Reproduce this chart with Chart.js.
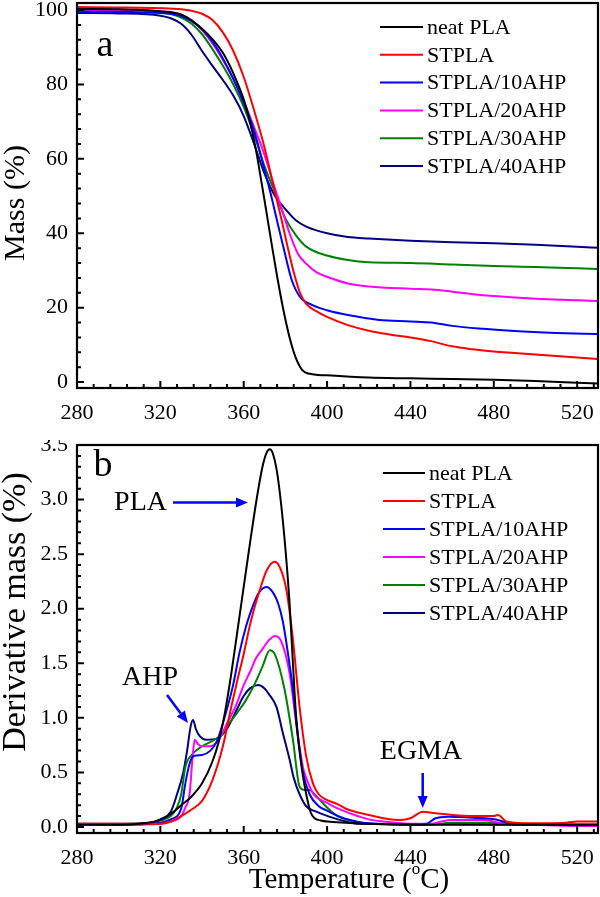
<!DOCTYPE html>
<html><head><meta charset="utf-8">
<script src="https://cdn.jsdelivr.net/npm/chart.js@4.4.1/dist/chart.umd.min.js"></script>
<style>
html,body{margin:0;padding:0;background:#fff;}
#wrap{position:relative;width:600px;height:897px;overflow:hidden;}
canvas{position:absolute;left:0;}
#c1{top:0;} #c2{top:440px;}
</style></head><body>
<div id="wrap"><canvas id="c1" width="600" height="440"></canvas><canvas id="c2" width="600" height="457"></canvas></div>
<script>
// ---------- data ----------
const seriesNames = ['neat PLA','STPLA','STPLA/10AHP','STPLA/20AHP','STPLA/30AHP','STPLA/40AHP'];
const seriesColors = ['#000000','#ff0000','#0000ff','#ff00ff','#008000','#000080'];

const xTickValues = [280,320,360,400,440,480,520];
const massTickValues = [0,20,40,60,80,100];
const derivTickValues = [0,0.5,1.0,1.5,2.0,2.5,3.0,3.5];

// (a) Mass (%) vs temperature
const massT_neat = [280,300,320,330,335,340,345,350,355,360,363,366,368,370,373,376,379,382,385,388,391,400,420,440,460,480,500,520,530];
const mass_neat  = [100.3,100.2,99.7,98.8,97.2,95,92.2,88.5,83,76,70,62,55.5,48.8,38.5,28.5,19.5,12,6.5,3.3,2.3,1.8,1.2,1.0,0.8,0.6,0.3,-0.2,-0.4];

const massT_st = [280,300,320,330,335,340,345,350,355,360,365,370,375,378,381,384,387,390,395,400,410,420,430,440,450,460,470,480,490,500,510,520,530];
const mass_st  = [100.8,100.7,100.5,100.2,99.8,99,97.3,94,89,82,73,63,51,44,36.5,29.5,24,21,19,17.5,15.3,13.8,12.8,12,11,9.6,8.8,8.2,7.8,7.4,7,6.6,6.2];

const massT_10 = [280,300,320,330,335,340,345,350,355,360,365,370,373,377,380,383,387,393,400,410,425,440,450,460,475,490,510,530];
const mass_10  = [99.6,99.5,99.2,98.4,97,94.8,91.5,87,81.5,75,67.5,57,50.5,41,34,27.5,22.9,20.7,19.3,18,16.7,16.3,16,15.1,14.3,13.7,13.2,12.9];

const massT_20 = [280,300,320,330,335,340,345,350,355,360,365,370,375,378,382,386,390,395,400,410,420,440,450,460,470,480,500,520,530];
const mass_20  = [100,100,99.6,98.7,97.3,94.6,91,86.6,81.5,75.5,68.5,61,52,47,40,34.5,31.8,29.5,28.3,26.5,25.7,25.1,24.9,24.3,23.6,23.1,22.4,22,21.8];

const massT_30 = [280,300,320,330,335,340,345,350,355,360,365,370,375,380,385,390,400,410,420,440,460,480,500,520,530];
const mass_30  = [100.3,100.1,99.5,98,96.3,93.5,89.5,85,80,74,66.5,58,51,44,39.5,36.4,34,32.8,32.2,32,31.6,31.2,30.9,30.6,30.4];

const massT_40 = [280,300,320,325,330,335,340,345,350,355,360,365,370,375,380,385,390,400,410,420,440,460,480,500,520,530];
const mass_40  = [99.2,99.1,98.5,97.8,96.3,93.3,89,85,81.2,77,71.5,64,56,50,46.5,43.5,41.8,40,39,38.6,38,37.6,37.3,36.9,36.4,36.1];

// (b) Derivative mass vs temperature
const dT_neat = [280,300,310,320,325,330,335,340,345,348,351,354,357,360,363,366,369,371,372.5,374,376,378,380,382,383.6,385,386.5,388,390,392,394,397,400,420,450,480,530];
const d_neat  = [0.02,0.02,0.03,0.065,0.12,0.2,0.28,0.4,0.6,0.78,1.05,1.4,1.8,2.2,2.6,2.98,3.3,3.43,3.46,3.42,3.25,2.95,2.55,2.05,1.5,1.05,0.75,0.52,0.3,0.14,0.08,0.06,0.05,0.03,0.02,0.02,0.02];

const dT_st = [280,300,320,325,330,335,340,345,350,354,357,359.7,363,365,367.7,371,374.9,378,380.5,383.6,386.8,390,393.2,396,399.6,405,410,420,430,435,440,446,450,460,470,480,482,486,490,500,515,520,530];
const d_st  = [0.03,0.03,0.03,0.05,0.1,0.16,0.24,0.43,0.74,1.1,1.35,1.56,1.85,2.0,2.17,2.35,2.43,2.35,2.17,1.72,1.1,0.645,0.4,0.3,0.25,0.21,0.16,0.11,0.07,0.065,0.08,0.14,0.13,0.11,0.1,0.1,0.11,0.05,0.04,0.035,0.04,0.05,0.05];

const dT_10 = [280,300,320,325,330,332,334,336,340,344,347,350,354.9,358,361.3,364.5,367,370.9,374,376.5,378.8,381,383.6,386,388.4,391.6,396,400,406,412,419,430,445,448,452,458,470,482,488,500,530];
const d_10  = [0.03,0.02,0.04,0.07,0.17,0.4,0.58,0.65,0.66,0.7,0.78,0.95,1.3,1.6,1.85,2.03,2.14,2.2,2.15,2.05,1.88,1.62,1.26,0.82,0.5,0.3,0.19,0.15,0.095,0.06,0.035,0.025,0.02,0.03,0.08,0.095,0.085,0.065,0.03,0.02,0.02];

const dT_20 = [280,300,320,325,330,332,334,335.5,336.5,338,340,344,348,352,356,360,363,366,369,372,375,378,382,385.2,388.4,390,393.2,395,398,400,405,411,420,427,440,450,455,459,475,485,500,520,530];
const d_20  = [0.02,0.02,0.03,0.05,0.1,0.18,0.3,0.65,0.8,0.76,0.74,0.74,0.8,0.95,1.1,1.3,1.42,1.55,1.63,1.71,1.75,1.7,1.41,0.95,0.55,0.45,0.31,0.27,0.24,0.22,0.17,0.125,0.07,0.05,0.03,0.03,0.05,0.064,0.064,0.03,0.02,0.01,0.01];

const dT_30 = [280,300,315,320,325,328,330,332,335,340,345,349,353,357,361,365,369,372.5,375,379.6,383.6,386.8,389,391.6,394,396.4,401,405,410,420,450,460,480,490,530];
const d_30  = [0.02,0.02,0.04,0.06,0.1,0.18,0.3,0.55,0.66,0.74,0.79,0.84,0.95,1.05,1.16,1.3,1.47,1.62,1.58,1.26,0.8,0.37,0.34,0.34,0.3,0.25,0.16,0.1,0.064,0.03,0.02,0.04,0.04,0.02,0.02];

const dT_40 = [280,300,315,320,325,328,331,333,334.5,335.7,337,339,342,347,352,356,360,363,366.9,370,372,375.7,378.8,382,384,386.8,390,394.8,401,409,415,530];
const d_40  = [0.03,0.03,0.04,0.07,0.14,0.3,0.5,0.72,0.92,0.98,0.9,0.83,0.8,0.81,0.9,1.05,1.2,1.27,1.3,1.27,1.22,1.1,0.86,0.62,0.45,0.3,0.19,0.14,0.095,0.05,0.03,0.02];

const massSeries = [[massT_neat,mass_neat],[massT_st,mass_st],[massT_10,mass_10],[massT_20,mass_20],[massT_30,mass_30],[massT_40,mass_40]];
const derivSeries = [[dT_neat,d_neat],[dT_st,d_st],[dT_10,d_10],[dT_20,d_20],[dT_30,d_30],[dT_40,d_40]];

// ---------- helpers ----------
const SERIF = "'Liberation Serif','Times New Roman',serif";
function toPts(ts, vs){ return ts.map((t,i)=>({x:t,y:vs[i]})); }
function makeDatasets(series){
  return series.map((s,i)=>({
    label: seriesNames[i], data: toPts(s[0], s[1]),
    borderColor: seriesColors[i], backgroundColor: seriesColors[i],
    borderWidth: 2, pointRadius: 0, fill: false,
    cubicInterpolationMode: 'monotone'
  }));
}
function range(a,b,s){ const r=[]; for(let v=a; v<=b+1e-9; v+=s) r.push(+v.toFixed(6)); return r; }

function decoPlugin(cfg){
  return {
    id: 'deco',
    afterDraw(chart){
      const ctx = chart.ctx, ca = chart.chartArea;
      const xs = chart.scales.x, ys = chart.scales.y;
      ctx.save();
      ctx.strokeStyle = '#000'; ctx.lineWidth = 2;
      ctx.beginPath();
      cfg.xMinor.forEach(v=>{ const p = xs.getPixelForValue(v); const L = xTickValues.includes(v)?7:4;
        ctx.moveTo(p, ca.bottom); ctx.lineTo(p, ca.bottom - L); });
      cfg.yMinor.forEach(v=>{ const p = ys.getPixelForValue(v); const L = cfg.yMajor.some(m=>Math.abs(m-v)<1e-6)?7:4;
        ctx.moveTo(ca.left, p); ctx.lineTo(ca.left + L, p); });
      ctx.stroke();
      ctx.lineWidth = 2.2;
      ctx.strokeRect(ca.left, ca.top, ca.right-ca.left, ca.bottom-ca.top);
      ctx.font = '22px ' + SERIF; ctx.textBaseline = 'middle'; ctx.textAlign = 'left';
      chart.data.datasets.forEach((ds,i)=>{
        const y = cfg.legY + i*cfg.legDy;
        ctx.strokeStyle = ds.borderColor; ctx.lineWidth = 2;
        ctx.beginPath(); ctx.moveTo(cfg.legX0, y); ctx.lineTo(cfg.legX1, y); ctx.stroke();
        ctx.fillStyle = '#000'; ctx.fillText(ds.label, cfg.legX1 + 4, y + 1);
      });
      ctx.fillStyle = '#000';
      ctx.save();
      ctx.translate(cfg.yTitleX, cfg.yTitleY); ctx.rotate(-Math.PI/2);
      ctx.font = cfg.yTitleSize + 'px ' + SERIF; ctx.textAlign = 'center'; ctx.textBaseline = 'middle';
      ctx.fillText(cfg.yTitle, 0, 0);
      ctx.restore();
      ctx.fillStyle = '#000';
      ctx.font = '38px ' + SERIF; ctx.textAlign = 'center'; ctx.textBaseline = 'middle';
      ctx.fillText(cfg.letter, cfg.letterX, cfg.letterY);
      if (cfg.extra) cfg.extra(ctx, chart);
      ctx.restore();
    }
  };
}

function arrow(ctx, x0, y0, x1, y1){
  ctx.save();
  const ang = Math.atan2(y1-y0, x1-x0), hl = 12, hw = 5;
  const bx = x1 - hl*Math.cos(ang), by = y1 - hl*Math.sin(ang);
  ctx.strokeStyle = '#0000ff'; ctx.fillStyle = '#0000ff'; ctx.lineWidth = 2.5;
  ctx.beginPath(); ctx.moveTo(x0,y0); ctx.lineTo(bx,by); ctx.stroke();
  ctx.beginPath(); ctx.moveTo(x1,y1);
  ctx.lineTo(bx + hw*Math.sin(ang), by - hw*Math.cos(ang));
  ctx.lineTo(bx - hw*Math.sin(ang), by + hw*Math.cos(ang));
  ctx.closePath(); ctx.fill();
  ctx.restore();
}

function makeChart(id, series, yMin, yMax, yTicks, yFmt, padTop, xHeight, cfg){
  return new Chart(document.getElementById(id), {
    type: 'line',
    data: { datasets: makeDatasets(series) },
    options: {
      responsive: false, animation: false, devicePixelRatio: 1,
      layout: { padding: { top: padTop, right: 2, left: 0, bottom: 0 } },
      plugins: { legend: { display: false }, tooltip: { enabled: false } },
      scales: {
        x: {
          type: 'linear', min: 280, max: 530,
          grid: { display: false, drawTicks: false, tickLength: 0 }, border: { display: false },
          afterBuildTicks: s => { s.ticks = xTickValues.map(v=>({value:v})); },
          afterFit: s => { s.height = xHeight; s.paddingLeft = 0; s.paddingRight = 0; },
          ticks: { color: '#000', font: { family: SERIF, size: 22 }, padding: 12, maxRotation: 0, autoSkip: false }
        },
        y: {
          type: 'linear', min: yMin, max: yMax,
          grid: { display: false, drawTicks: false, tickLength: 0 }, border: { display: false },
          afterBuildTicks: s => { s.ticks = yTicks.map(v=>({value:v})); },
          afterFit: s => { s.width = 77; s.paddingTop = 0; s.paddingBottom = 0; },
          ticks: { color: '#000', font: { family: SERIF, size: 22 }, padding: 9, autoSkip: false, callback: yFmt }
        }
      }
    },
    plugins: [decoPlugin(cfg)]
  });
}

// ---------- chart (a) ----------
makeChart('c1', massSeries, -1.6, 101.9, massTickValues, v=>String(v), 3, 52, {
  xMinor: range(280, 528, 8), yMinor: range(0, 100, 4), yMajor: massTickValues,
  legX0: 380, legX1: 423, legY: 27, legDy: 27.8,
  yTitle: 'Mass (%)', yTitleSize: 30, yTitleX: 16, yTitleY: 203,
  letter: 'a', letterX: 105, letterY: 46
});

// ---------- chart (b) ----------
makeChart('c2', derivSeries, -0.055, 3.5, derivTickValues, v=>v.toFixed(1), 5, 64, {
  xMinor: range(280, 528, 8), yMinor: range(0, 3.5, 0.1), yMajor: derivTickValues,
  legX0: 383, legX1: 425, legY: 33, legDy: 28,
  yTitle: 'Derivative mass (%)', yTitleSize: 34, yTitleX: 16, yTitleY: 172,
  letter: 'b', letterX: 103, letterY: 26,
  extra: (ctx, chart) => {
    ctx.fillStyle = '#000'; ctx.textBaseline = 'middle';
    ctx.font = '28px ' + SERIF;
    ctx.textAlign = 'right'; ctx.fillText('PLA', 167, 63);
    ctx.textAlign = 'center'; ctx.fillText('AHP', 150, 238);
    ctx.fillText('EGMA', 421, 312);
    arrow(ctx, 173, 62.5, 248, 62.5);
    arrow(ctx, 167, 255, 188, 283);
    arrow(ctx, 422.7, 333, 422.7, 368);
    const y = 440, f = 29, fs = 17;
    const s1 = 'Temperature (', s2 = 'o', s3 = 'C)';
    ctx.fillStyle = '#000';
    ctx.font = f + 'px ' + SERIF; const w1 = ctx.measureText(s1).width, w3 = ctx.measureText(s3).width;
    ctx.font = fs + 'px ' + SERIF; const w2 = ctx.measureText(s2).width;
    const total = w1 + w2 + w3, x0 = 349 - total/2;
    ctx.textAlign = 'left';
    ctx.font = f + 'px ' + SERIF; ctx.fillText(s1, x0, y);
    ctx.font = fs + 'px ' + SERIF; ctx.fillText(s2, x0 + w1, y - 10);
    ctx.font = f + 'px ' + SERIF; ctx.fillText(s3, x0 + w1 + w2, y);
  }
});
</script>
</body></html>
